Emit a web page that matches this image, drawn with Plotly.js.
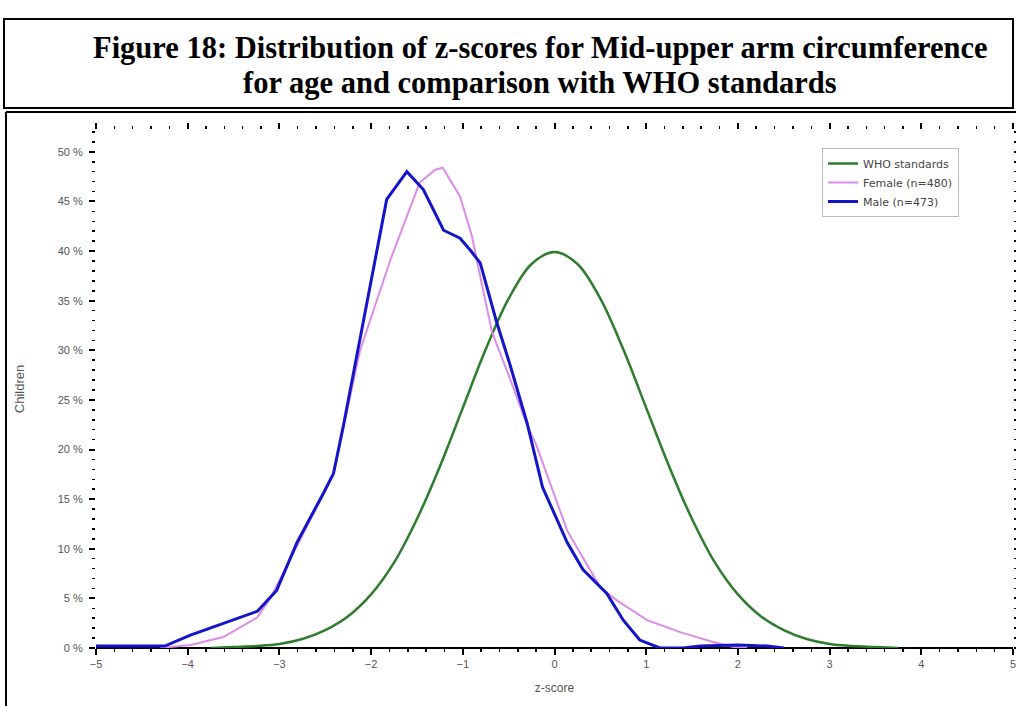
<!DOCTYPE html>
<html>
<head>
<meta charset="utf-8">
<script src="https://cdn.plot.ly/plotly-3.0.1.min.js"></script>
<style>
html,body{margin:0;padding:0;background:#fff;}
#chart{width:1016px;height:706px;}
</style>
</head>
<body>
<div id="chart"></div>
<script>
// WHO standards (z-score, % of children)
const whoZ   = [-3.75,-3.5,-3.25,-3.0,-2.75,-2.5,-2.25,-2.0,-1.75,-1.5,-1.25,-1.0,-0.75,-0.5,-0.25,0,0.25,0.5,0.75,1.0,1.25,1.5,1.75,2.0,2.25,2.5,2.75,3.0,3.25,3.5,3.75];
const whoPct = [0.0,0.1,0.2,0.4,0.9,1.8,3.2,5.4,8.6,13.0,18.3,24.2,30.1,35.2,38.7,39.9,38.7,35.2,30.1,24.2,18.3,13.0,8.6,5.4,3.2,1.8,0.9,0.4,0.2,0.1,0.0];

// Female
const femaleZ   = [-4.3,-3.97,-3.61,-3.24,-3.1,-2.81,-2.52,-2.41,-2.26,-2.12,-1.79,-1.47,-1.3,-1.22,-1.03,-0.9,-0.8,-0.68,-0.5,-0.3,-0.2,-0.01,0.14,0.5,0.68,1.01,1.37,1.73,1.95,2.1];
const femalePct = [0,0.3,1.1,3.1,5.0,10.3,15.5,17.5,24.0,30.0,39.1,46.9,48.2,48.4,45.5,41.5,37.0,31.8,27.5,22.5,20.5,15.6,11.8,6.1,4.8,2.8,1.6,0.6,0.1,0];

// Male
const maleZ   = [-5,-4.6,-4.25,-3.97,-3.61,-3.24,-3.03,-2.81,-2.52,-2.41,-2.3,-2.04,-1.9,-1.83,-1.61,-1.43,-1.21,-1.03,-0.92,-0.81,-0.63,-0.49,-0.3,-0.13,0.14,0.31,0.57,0.75,0.93,1.15,1.4,1.59,2.0,2.32,2.5];
const malePct = [0.2,0.2,0.2,1.3,2.5,3.7,5.8,10.6,15.6,17.6,22.5,35.0,41.8,45.2,48.0,46.2,42.1,41.3,40.1,38.8,32.8,28.7,22.7,16.2,10.6,7.9,5.5,2.8,0.8,0,0,0.2,0.3,0.2,0];

const seriesNames = ["WHO standards","Female (n=480)","Male (n=473)"];
const titleLines = ["Figure 18: Distribution of z-scores for Mid-upper arm circumference","for age and comparison with WHO standards"];

const traces = [
  {x: whoZ, y: whoPct, name: seriesNames[0], type:'scatter', mode:'lines', line:{color:'#2e7d2e', width:2.5, shape:'spline'}},
  {x: femaleZ, y: femalePct, name: seriesNames[1], type:'scatter', mode:'lines', line:{color:'#dc8ce6', width:2}},
  {x: maleZ, y: malePct, name: seriesNames[2], type:'scatter', mode:'lines', line:{color:'#1414c8', width:3}}
];

const tickFont = {family:'Arial, Liberation Sans, sans-serif', size:11, color:'#555'};

const W = 1016, H = 706, L = 96, R = 3, T = 130, B = 58;
const pw = W - L - R, ph = H - T - B;
function px(x){ return (x - L) / pw; }
function py(y){ return (H - B - y) / ph; }

const layout = {
  width:W, height:H,
  margin:{l:L, r:R, t:T, b:B},
  paper_bgcolor:'#fff', plot_bgcolor:'#fff',
  showlegend:true,
  legend:{x:px(822), y:py(148), xanchor:'left', yanchor:'top', bgcolor:'#fff', bordercolor:'#bbb', borderwidth:1,
          font:{family:'DejaVu Sans, Arial, sans-serif', size:11, color:'#444'}, tracegroupgap:0, itemwidth:30},
  xaxis:{range:[-5,5], dtick:1, tick0:0, showgrid:false, zeroline:false, showline:false,
         ticks:'outside', ticklen:6, tickwidth:2, tickcolor:'#000', mirror:'ticks',
         minor:{dtick:0.2, ticklen:3, tickwidth:1.5, tickcolor:'#000', ticks:'outside'},
         tickfont:tickFont, ticklabeloverflow:'allow',
         title:{text:'z-score', font:{family:'Arial, Liberation Sans, sans-serif', size:12, color:'#555'}, standoff:14}},
  yaxis:{range:[0,52.2], dtick:5, tick0:0, showgrid:false, zeroline:true, zerolinecolor:'#000', zerolinewidth:2,
         showline:false, ticks:'outside', ticklen:6, tickwidth:2, tickcolor:'#000', mirror:'ticks',
         minor:{dtick:1, ticklen:3, tickwidth:1.5, tickcolor:'#000', ticks:'outside'},
         ticksuffix:' %', tickfont:tickFont, ticklabelstandoff:4,
         title:{text:'Children', font:{family:'Arial, Liberation Sans, sans-serif', size:13, color:'#555'}, standoff:30}},
  shapes:[
    {type:'rect', xref:'paper', yref:'paper', x0:px(4), x1:px(1013), y0:py(19), y1:py(108), line:{color:'#000', width:2}},
    {type:'line', xref:'paper', yref:'paper', x0:px(6), x1:px(1016), y0:py(112), y1:py(112), line:{color:'#000', width:2}},
    {type:'line', xref:'paper', yref:'paper', x0:px(6), x1:px(6), y0:py(112), y1:py(706), line:{color:'#000', width:2}}
  ],
  annotations:[
    {xref:'paper', yref:'paper', x:px(540), y:py(48), xanchor:'center', yanchor:'middle', showarrow:false,
     text:'<b>'+titleLines[0]+'</b>', font:{family:'Liberation Serif, Times New Roman, serif', size:30.5, color:'#000'}},
    {xref:'paper', yref:'paper', x:px(540), y:py(83), xanchor:'center', yanchor:'middle', showarrow:false,
     text:'<b>'+titleLines[1]+'</b>', font:{family:'Liberation Serif, Times New Roman, serif', size:30.5, color:'#000'}}
  ]
};

Plotly.newPlot('chart', traces, layout, {displayModeBar:false, staticPlot:true});
</script>
</body>
</html>
